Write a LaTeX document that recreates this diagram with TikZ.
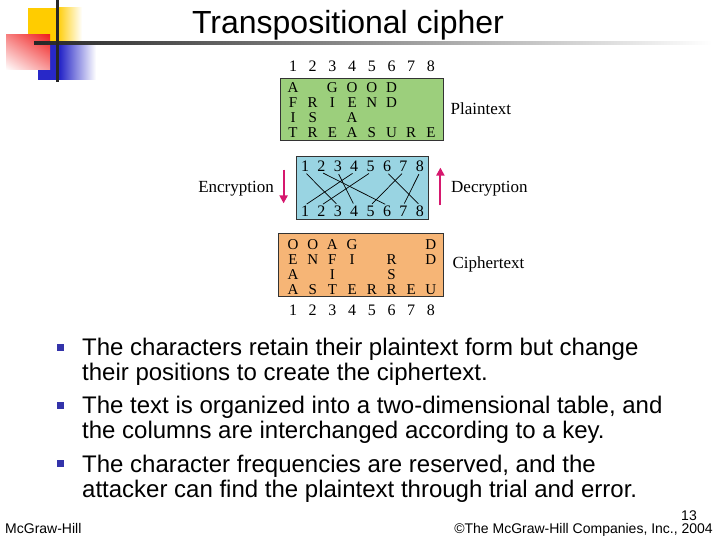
\documentclass[tikz,border=0pt]{standalone}
\usepackage{fontspec}
\setmainfont{Liberation Sans}
\newfontfamily\tabfont{Liberation Serif}
\usetikzlibrary{arrows.meta, positioning, shadings}
\definecolor{plaingreen}{RGB}{156,207,124}
\definecolor{keyblue}{RGB}{153,212,226}
\definecolor{cipherorange}{RGB}{246,181,118}
\definecolor{arrowpink}{RGB}{214,24,110}
\definecolor{bulletblue}{RGB}{51,51,170}
\definecolor{logoyellow}{RGB}{255,204,0}
\definecolor{logoblue}{RGB}{40,40,200}
\definecolor{logored}{RGB}{240,30,30}
\tikzset{
    box style/.style={draw=black!80, line width=0.8pt, rectangle, inner sep=0pt},
    cell style/.style={font=\tabfont\fontsize{15}{15}\selectfont, inner sep=0pt, anchor=base},
    num style/.style={font=\tabfont\fontsize{16}{16}\selectfont, inner sep=0pt, anchor=base},
    label style/.style={font=\tabfont\fontsize{17}{17}\selectfont, inner sep=0pt},
    arrow style/.style={-{Triangle[length=8pt,width=8pt]}, line width=2pt, arrowpink},
    bullet text/.style={font=\fontsize{24}{25}\selectfont, inner sep=0pt, anchor=base west, align=left},
    bullet mark/.style={fill=bulletblue, minimum size=7pt, inner sep=0pt},
    foot style/.style={font=\fontsize{14}{14}\selectfont, inner sep=0pt},
}
\begin{document}
\begin{tikzpicture}[x=1pt, y=-1pt]
    \useasboundingbox (0,0) rectangle (720,540);
    % logo
    \fill[logoyellow] (28,8) rectangle (57,43);
    \shade[left color=logoyellow, right color=white] (57,8) rectangle (82,43);
    \fill[logoblue] (38,43) rectangle (60,80);
    \shade[left color=logoblue, right color=white] (60,43) rectangle (96,80);
    \shade[upper left=logored!55, upper right=logored, lower left=white, lower right=logored!45] (6,35) rectangle (50,70);
    \shade[left color=black!85, right color=white] (34,41.8) rectangle (712,44.6);
    \fill[black!85] (55.5,0) rectangle (58.5,82);

    \node[font=\fontsize{32}{32}\selectfont, anchor=base] (title) at (348,34) {Transpositional cipher};

    % tables
    \node[box style, fill=plaingreen, minimum width=163pt, minimum height=62pt] (plainbox) at (361.5,109) {};
    \node[box style, fill=keyblue, minimum width=132pt, minimum height=63pt] (keybox) at (362,187.5) {};
    \node[box style, fill=cipherorange, minimum width=165pt, minimum height=63pt] (cipherbox) at (360.5,264.5) {};

    \foreach \i in {1,...,8} {
        \node[num style] (phead\i) at ({293+19.7*(\i-1)},72) {\i};
        \node[num style] (cfoot\i) at ({293+19.7*(\i-1)},315) {\i};
        \node[num style] (top\i) at ({305+16.4*(\i-1)},172) {\i};
        \node[num style] (bot\i) at ({305+16.4*(\i-1)},216) {\i};
    }
    \foreach \row/\cells in {1/{1/A,3/G,4/O,5/O,6/D}, 2/{1/F,2/R,3/I,4/E,5/N,6/D}, 3/{1/I,2/S,4/A}, 4/{1/T,2/R,3/E,4/A,5/S,6/U,7/R,8/E}}
        \foreach \c/\ch in \cells
            \node[cell style] (p\row-\c) at ({293+19.7*(\c-1)},{78+15*\row}) {\ch};
    \foreach \row/\cells in {1/{1/O,2/O,3/A,4/G,8/D}, 2/{1/E,2/N,3/F,4/I,6/R,8/D}, 3/{1/A,3/I,6/S}, 4/{1/A,2/S,3/T,4/E,5/R,6/R,7/E,8/U}}
        \foreach \c/\ch in \cells
            \node[cell style] (c\row-\c) at ({293+19.7*(\c-1)},{234+15*\row}) {\ch};

    % key
    \foreach \a/\b in {1/3,2/6,3/4,4/1,5/2,6/8,7/5,8/7}
        \draw[line width=0.7pt, shorten <=2pt, shorten >=2pt] (top\a.south) -- (bot\b.north);

    \node[label style, right=7pt of plainbox] (plainlabel) {Plaintext};
    \node[label style, right=9pt of cipherbox] (cipherlabel) {Ciphertext};

    \coordinate (enctop) at ([xshift=-12pt,yshift=-14pt]keybox.north west);
    \coordinate (encbot) at ([xshift=-12pt,yshift=16pt]keybox.south west);
    \coordinate (dectop) at ([xshift=12pt,yshift=-12pt]keybox.north east);
    \coordinate (decbot) at ([xshift=12pt,yshift=14pt]keybox.south east);
    \draw[arrow style] (enctop) -- (encbot);
    \draw[arrow style] (decbot) -- (dectop);
    \node[label style, anchor=east] (enclabel) at (274,189) {Encryption};
    \node[label style, anchor=west] (declabel) at (451,189) {Decryption};

    % bullets
    \foreach \y [count=\k] in {347,405,463}
        \node[bullet mark] (mark\k) at (60,\y) {};
    \node[bullet text] (item1) at (82,380) {The characters retain their plaintext form but change\\their positions to create the ciphertext.};
    \node[bullet text] (item2) at (82,438) {The text is organized into a two-dimensional table, and\\the columns are interchanged according to a key.};
    \node[bullet text] (item3) at (82,497) {The character frequencies are reserved, and the\\attacker can find the plaintext through trial and error.};

    % footer
    \node[foot style, anchor=base west] (publisher) at (5,533) {McGraw-Hill};
    \node[foot style, anchor=base east] (copyright) at (713,533) {©The McGraw-Hill Companies, Inc., 2004};
    \node[foot style, anchor=base east] (pagenum) at (697,520) {13};
\end{tikzpicture}
\end{document}
